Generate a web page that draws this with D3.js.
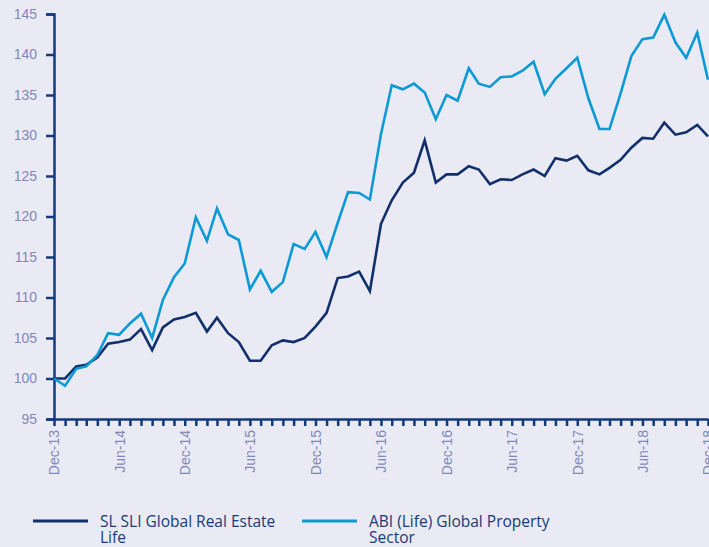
<!DOCTYPE html>
<html lang="en">
<head>
    <meta charset="UTF-8">
    <title>SL SLI Global Real Estate Life</title>
    <script src="https://cdn.jsdelivr.net/npm/d3@7/dist/d3.min.js"></script>
    <style>
        html, body {
            margin: 0;
            padding: 0;
            background: #e9eaf3;
        }
        #chart {
            width: 709px;
            height: 547px;
        }
    </style>
</head>
<body>
<div id="chart"></div>
<script>
    // month-end dates, Dec-13 .. Dec-18
    var months = d3.timeMonth.range(new Date(2013, 11, 1), new Date(2019, 0, 1));

    // SL SLI Global Real Estate Life
    var fundValues = [
        100.0, 100.0, 101.5, 101.7, 102.6, 104.3, 104.5, 104.8, 106.1, 103.5,
        106.3, 107.3, 107.6, 108.1, 105.8, 107.5, 105.6, 104.5, 102.2, 102.2,
        104.1, 104.7, 104.5, 105.0, 106.4, 108.1, 112.4, 112.6, 113.2, 110.8,
        119.1, 122.0, 124.2, 125.4, 129.4, 124.2, 125.2, 125.2, 126.2, 125.8,
        124.0, 124.6, 124.5, 125.2, 125.8, 125.0, 127.2, 126.9, 127.5, 125.7,
        125.2, 126.0, 127.0, 128.5, 129.7, 129.6, 131.6, 130.1, 130.4, 131.3,
        129.9
    ];

    // ABI (Life) Global Property Sector
    var sectorValues = [
        100.0, 99.1, 101.2, 101.5, 102.9, 105.6, 105.4, 106.8, 108.0, 105.0,
        109.7, 112.5, 114.2, 119.9, 117.0, 121.0, 117.8, 117.1, 111.0, 113.3,
        110.7, 111.9, 116.6, 116.0, 118.1, 115.0, 119.2, 123.0, 122.9, 122.1,
        130.2, 136.2, 135.7, 136.4, 135.3, 132.0, 135.0, 134.3, 138.3, 136.4,
        136.0, 137.2, 137.3, 138.0, 139.1, 135.1, 137.0, 138.3, 139.6, 134.6,
        130.8, 130.8, 135.2, 139.8, 141.9, 142.1, 144.9, 141.5, 139.6, 142.7,
        136.9
    ];

    var seriesNames = ["SL SLI Global Real Estate Life", "ABI (Life) Global Property Sector"];
    var seriesColors = ["#11306b", "#0b9ad6"];
    var yTicks = [95, 100, 105, 110, 115, 120, 125, 130, 135, 140, 145];

    var width = 709, height = 547;
    var margin = {left: 54, top: 14, right: 1, bottom: 128};

    var svg = d3.select("#chart")
        .append("svg")
        .attr("width", width)
        .attr("height", height)
        .style("font-family", "'Open Sans', 'Noto Sans', sans-serif");

    var x = d3.scaleTime()
        .domain([months[0], months[months.length - 1]])
        .range([margin.left, width - margin.right]);

    var y = d3.scaleLinear()
        .domain([95, 145])
        .range([height - margin.bottom, margin.top]);

    var axisColor = "#123a7c";
    var labelColor = "#7f89ba";

    // y axis
    var yAxis = svg.append("g")
        .attr("transform", "translate(" + margin.left + ",0)")
        .call(d3.axisLeft(y).tickValues(yTicks).tickSize(8).tickPadding(9));
    yAxis.select(".domain").attr("stroke", axisColor).attr("stroke-width", 2.5);
    yAxis.selectAll(".tick line").attr("stroke", axisColor).attr("stroke-width", 2.5);
    yAxis.selectAll(".tick text")
        .attr("fill", labelColor)
        .style("font-size", "14px");

    // x axis: monthly ticks, label every six months
    var fmt = d3.timeFormat("%b-%y");
    var xAxis = svg.append("g")
        .attr("transform", "translate(0," + y(95) + ")")
        .call(d3.axisBottom(x)
            .tickValues(months)
            .tickSize(7)
            .tickSizeOuter(0)
            .tickFormat(function (d, i) {
                return i % 6 === 0 ? fmt(d) : "";
            }));
    xAxis.select(".domain").attr("stroke", axisColor).attr("stroke-width", 2.5);
    xAxis.selectAll(".tick line").attr("stroke", axisColor).attr("stroke-width", 2.5);
    xAxis.selectAll(".tick text")
        .attr("fill", labelColor)
        .style("font-size", "14px")
        .attr("text-anchor", "end")
        .attr("transform", "rotate(-90)")
        .attr("x", -11)
        .attr("y", 0)
        .attr("dy", "0.35em");

    // lines
    var line = d3.line()
        .x(function (d, i) { return x(months[i]); })
        .y(function (d) { return y(d); });

    [fundValues, sectorValues].forEach(function (vals, k) {
        svg.append("path")
            .datum(vals)
            .attr("fill", "none")
            .attr("stroke", seriesColors[k])
            .attr("stroke-width", 2.6)
            .attr("stroke-linejoin", "miter")
            .attr("d", line);
    });

    // legend
    var legendX = [33, 302];
    var legendLines = [["SL SLI Global Real Estate", "Life"], ["ABI (Life) Global Property", "Sector"]];
    legendX.forEach(function (lx, k) {
        var g = svg.append("g").attr("transform", "translate(" + lx + ",521)");
        g.append("line")
            .attr("x1", 0).attr("x2", 55)
            .attr("y1", 0).attr("y2", 0)
            .attr("stroke", seriesColors[k])
            .attr("stroke-width", 3);
        var t = g.append("text")
            .attr("x", 67)
            .attr("y", 6)
            .attr("fill", "#173a78")
            .style("font-size", "15.5px");
        legendLines[k].forEach(function (s, j) {
            t.append("tspan").attr("x", 67).attr("dy", j === 0 ? 0 : 16).text(s);
        });
    });
</script>
</body>
</html>
